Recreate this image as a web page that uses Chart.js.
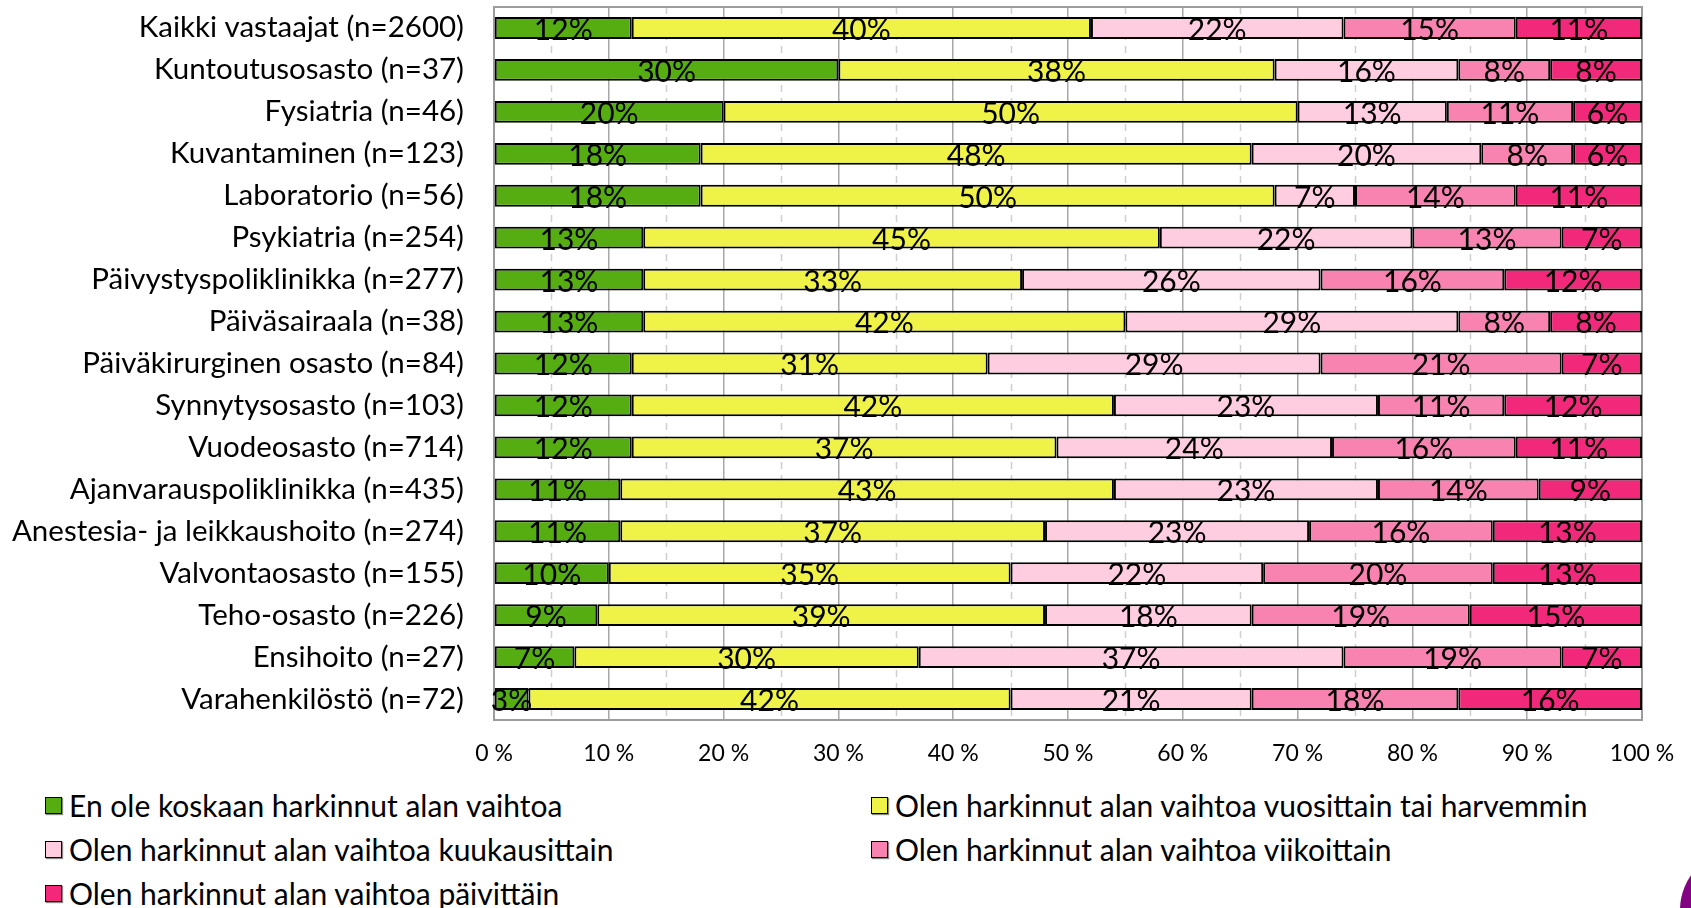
<!DOCTYPE html>
<html lang="fi">
<head>
  <meta charset="UTF-8">
  <title>Alan vaihdon harkinta</title>
  <script src="https://cdn.jsdelivr.net/npm/chart.js"></script>
  <style>
    html, body { margin: 0; padding: 0; background: #fff; }
    .page { position: relative; width: 1691px; height: 908px; overflow: hidden; font-family: Lato, sans-serif; }
    .chart-box { position: absolute; left: 0; top: 0; width: 1691px; height: 780px; }
    .legend { position: absolute; left: 0; top: 787px; width: 1691px; }
    .legend-item { position: absolute; display: flex; align-items: center; font-size: 30px; color: #000; white-space: nowrap; }
    .legend-box { width: 15px; height: 15px; border: 1.5px solid #000; margin-right: 7px; box-shadow: 1px 1px 1px #888; }
    .logo { position: absolute; left: 1680px; top: 850px; width: 120px; height: 120px; border-radius: 50%; background: #820482; }
  </style>
</head>
<body>
<div class="page">
  <div class="chart-box"><canvas id="chart"></canvas></div>
  <div class="legend" id="legend"></div>
  <div class="logo"></div>
</div>
<script>
// Kategoriat ja sarjat (%)
const categories = [
  'Kaikki vastaajat (n=2600)',
  'Kuntoutusosasto (n=37)',
  'Fysiatria (n=46)',
  'Kuvantaminen (n=123)',
  'Laboratorio (n=56)',
  'Psykiatria (n=254)',
  'Päivystyspoliklinikka (n=277)',
  'Päiväsairaala (n=38)',
  'Päiväkirurginen osasto (n=84)',
  'Synnytysosasto (n=103)',
  'Vuodeosasto (n=714)',
  'Ajanvarauspoliklinikka (n=435)',
  'Anestesia- ja leikkaushoito (n=274)',
  'Valvontaosasto (n=155)',
  'Teho-osasto (n=226)',
  'Ensihoito (n=27)',
  'Varahenkilöstö (n=72)'
];
const neverValues   = [12, 30, 20, 18, 18, 13, 13, 13, 12, 12, 12, 11, 11, 10, 9, 7, 3];
const yearlyValues  = [40, 38, 50, 48, 50, 45, 33, 42, 31, 42, 37, 43, 37, 35, 39, 30, 42];
const monthlyValues = [22, 16, 13, 20, 7, 22, 26, 29, 29, 23, 24, 23, 23, 22, 18, 37, 21];
const weeklyValues  = [15, 8, 11, 8, 14, 13, 16, 8, 21, 11, 16, 14, 16, 20, 19, 19, 18];
const dailyValues   = [11, 8, 6, 6, 11, 7, 12, 8, 7, 12, 11, 9, 13, 13, 15, 7, 16];

const seriesNames = [
  'En ole koskaan harkinnut alan vaihtoa',
  'Olen harkinnut alan vaihtoa vuosittain tai harvemmin',
  'Olen harkinnut alan vaihtoa kuukausittain',
  'Olen harkinnut alan vaihtoa viikoittain',
  'Olen harkinnut alan vaihtoa päivittäin'
];
const seriesColors = ['#56ad12', '#eff347', '#ffcce0', '#f883b1', '#f2297a'];
const seriesValues = [neverValues, yearlyValues, monthlyValues, weeklyValues, dailyValues];

const FONT = 'Lato, sans-serif';

// prosenttiluvut palkkien sisään
const valueLabels = {
  id: 'valueLabels',
  afterDatasetsDraw(chart) {
    const ctx = chart.ctx;
    ctx.save();
    ctx.font = '30px ' + FONT;
    ctx.fillStyle = '#000';
    ctx.textAlign = 'center';
    ctx.textBaseline = 'alphabetic';
    chart.data.datasets.forEach((ds, i) => {
      chart.getDatasetMeta(i).data.forEach((bar, j) => {
        const cx = (bar.x + bar.base) / 2;
        ctx.fillText(ds.data[j] + '%', cx, bar.y + bar.height / 2 + 1);
      });
    });
    ctx.restore();
  }
};

// kuvaajan reunaviiva ja katkoviivoitetut väliviivat (5 %, 15 % ...)
const plotFrame = {
  id: 'plotFrame',
  beforeDatasetsDraw(chart) {
    const a = chart.chartArea;
    const x = chart.scales.x;
    const ctx = chart.ctx;
    ctx.save();
    ctx.strokeStyle = '#cfcfcf';
    ctx.lineWidth = 1.5;
    ctx.setLineDash([7, 6]);
    for (let v = 5; v < 100; v += 10) {
      const px = Math.round(x.getPixelForValue(v)) + 0.5;
      ctx.beginPath();
      ctx.moveTo(px, a.top);
      ctx.lineTo(px, a.bottom);
      ctx.stroke();
    }
    ctx.setLineDash([]);
    ctx.strokeStyle = '#9c9c9c';
    ctx.lineWidth = 2;
    ctx.strokeRect(a.left, a.top, a.right - a.left, a.bottom - a.top);
    ctx.restore();
  }
};

new Chart(document.getElementById('chart'), {
  type: 'bar',
  data: {
    labels: categories,
    datasets: seriesValues.map((vals, i) => ({
      label: seriesNames[i],
      data: vals,
      backgroundColor: seriesColors[i],
      borderColor: '#000',
      borderWidth: 2,
      borderSkipped: false,
      barPercentage: 0.52,
      categoryPercentage: 1
    }))
  },
  options: {
    indexAxis: 'y',
    responsive: true,
    maintainAspectRatio: false,
    animation: false,
    layout: { padding: { top: 7, right: 49, left: 0, bottom: 0 } },
    plugins: {
      legend: { display: false },
      tooltip: { enabled: false }
    },
    scales: {
      x: {
        stacked: true,
        min: 0,
        max: 100,
        ticks: {
          stepSize: 10,
          padding: 0,
          color: '#000',
          font: { family: FONT, size: 23 },
          callback: v => v + ' %'
        },
        grid: { color: '#a8a8a8', lineWidth: 1.5, drawTicks: true, tickLength: 20, tickColor: 'rgba(0,0,0,0)' },
        border: { display: false },
        afterFit: s => { s.height = 60; }
      },
      y: {
        stacked: true,
        ticks: {
          padding: 0,
          color: '#000',
          font: { family: FONT, size: 29.5, lineHeight: 0.45 }
        },
        grid: { display: false, drawTicks: true, tickLength: 30 },
        border: { display: false },
        afterFit: s => { s.width = 494; }
      }
    }
  },
  plugins: [plotFrame, valueLabels]
});

// selite kahteen sarakkeeseen
const legendEl = document.getElementById('legend');
const legendCols = [45, 871];
const legendRows = [0, 44, 88];
seriesNames.forEach((name, i) => {
  const item = document.createElement('div');
  item.className = 'legend-item';
  item.style.left = legendCols[i % 2] + 'px';
  item.style.top = legendRows[Math.floor(i / 2)] + 'px';
  const box = document.createElement('span');
  box.className = 'legend-box';
  box.style.background = seriesColors[i];
  const text = document.createElement('span');
  text.textContent = name;
  item.appendChild(box);
  item.appendChild(text);
  legendEl.appendChild(item);
});
</script>
</body>
</html>
